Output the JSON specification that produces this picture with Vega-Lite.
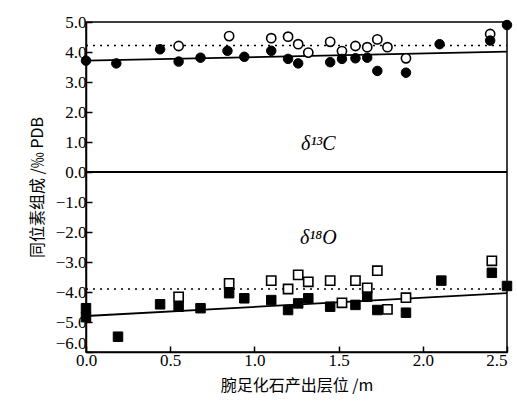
{
  "$schema": "https://vega.github.io/schema/vega-lite/v6.json",
  "width": 421,
  "height": 330,
  "autosize": "none",
  "padding": {"left": 86, "top": 22, "right": 10, "bottom": 51},
  "background": "white",
  "config": {
    "view": {"stroke": "black", "strokeWidth": 1.5}
  },
  "datasets": {
    "pts": [
      {"h": 0.55, "v": 4.2, "iso": "C", "type": "open"},
      {"h": 0.85, "v": 4.53, "iso": "C", "type": "open"},
      {"h": 1.10, "v": 4.46, "iso": "C", "type": "open"},
      {"h": 1.20, "v": 4.51, "iso": "C", "type": "open"},
      {"h": 1.26, "v": 4.26, "iso": "C", "type": "open"},
      {"h": 1.32, "v": 3.98, "iso": "C", "type": "open"},
      {"h": 1.45, "v": 4.34, "iso": "C", "type": "open"},
      {"h": 1.52, "v": 4.03, "iso": "C", "type": "open"},
      {"h": 1.60, "v": 4.20, "iso": "C", "type": "open"},
      {"h": 1.67, "v": 4.16, "iso": "C", "type": "open"},
      {"h": 1.73, "v": 4.42, "iso": "C", "type": "open"},
      {"h": 1.79, "v": 4.16, "iso": "C", "type": "open"},
      {"h": 1.90, "v": 3.79, "iso": "C", "type": "open"},
      {"h": 2.40, "v": 4.6, "iso": "C", "type": "open"},
      {"h": 0.00, "v": 3.71, "iso": "C", "type": "filled"},
      {"h": 0.18, "v": 3.62, "iso": "C", "type": "filled"},
      {"h": 0.44, "v": 4.09, "iso": "C", "type": "filled"},
      {"h": 0.55, "v": 3.68, "iso": "C", "type": "filled"},
      {"h": 0.68, "v": 3.81, "iso": "C", "type": "filled"},
      {"h": 0.84, "v": 4.04, "iso": "C", "type": "filled"},
      {"h": 0.94, "v": 3.84, "iso": "C", "type": "filled"},
      {"h": 1.10, "v": 4.04, "iso": "C", "type": "filled"},
      {"h": 1.20, "v": 3.77, "iso": "C", "type": "filled"},
      {"h": 1.26, "v": 3.62, "iso": "C", "type": "filled"},
      {"h": 1.45, "v": 3.66, "iso": "C", "type": "filled"},
      {"h": 1.52, "v": 3.77, "iso": "C", "type": "filled"},
      {"h": 1.60, "v": 3.79, "iso": "C", "type": "filled"},
      {"h": 1.67, "v": 3.81, "iso": "C", "type": "filled"},
      {"h": 1.73, "v": 3.37, "iso": "C", "type": "filled"},
      {"h": 1.90, "v": 3.31, "iso": "C", "type": "filled"},
      {"h": 2.10, "v": 4.26, "iso": "C", "type": "filled"},
      {"h": 2.40, "v": 4.38, "iso": "C", "type": "filled"},
      {"h": 2.50, "v": 4.90, "iso": "C", "type": "filled"},
      {"h": 0.55, "v": -4.16, "iso": "O", "type": "open"},
      {"h": 0.85, "v": -3.71, "iso": "O", "type": "open"},
      {"h": 1.10, "v": -3.62, "iso": "O", "type": "open"},
      {"h": 1.20, "v": -3.90, "iso": "O", "type": "open"},
      {"h": 1.26, "v": -3.43, "iso": "O", "type": "open"},
      {"h": 1.32, "v": -3.66, "iso": "O", "type": "open"},
      {"h": 1.45, "v": -3.62, "iso": "O", "type": "open"},
      {"h": 1.52, "v": -4.36, "iso": "O", "type": "open"},
      {"h": 1.60, "v": -3.62, "iso": "O", "type": "open"},
      {"h": 1.67, "v": -3.86, "iso": "O", "type": "open"},
      {"h": 1.73, "v": -3.29, "iso": "O", "type": "open"},
      {"h": 1.79, "v": -4.58, "iso": "O", "type": "open"},
      {"h": 1.90, "v": -4.19, "iso": "O", "type": "open"},
      {"h": 2.41, "v": -2.96, "iso": "O", "type": "open"},
      {"h": 0.00, "v": -4.54, "iso": "O", "type": "filled"},
      {"h": 0.00, "v": -4.84, "iso": "O", "type": "filled"},
      {"h": 0.19, "v": -5.49, "iso": "O", "type": "filled"},
      {"h": 0.44, "v": -4.41, "iso": "O", "type": "filled"},
      {"h": 0.55, "v": -4.49, "iso": "O", "type": "filled"},
      {"h": 0.68, "v": -4.54, "iso": "O", "type": "filled"},
      {"h": 0.85, "v": -4.04, "iso": "O", "type": "filled"},
      {"h": 0.94, "v": -4.21, "iso": "O", "type": "filled"},
      {"h": 1.10, "v": -4.27, "iso": "O", "type": "filled"},
      {"h": 1.20, "v": -4.60, "iso": "O", "type": "filled"},
      {"h": 1.26, "v": -4.38, "iso": "O", "type": "filled"},
      {"h": 1.32, "v": -4.21, "iso": "O", "type": "filled"},
      {"h": 1.45, "v": -4.49, "iso": "O", "type": "filled"},
      {"h": 1.60, "v": -4.43, "iso": "O", "type": "filled"},
      {"h": 1.67, "v": -4.16, "iso": "O", "type": "filled"},
      {"h": 1.73, "v": -4.60, "iso": "O", "type": "filled"},
      {"h": 1.90, "v": -4.69, "iso": "O", "type": "filled"},
      {"h": 2.11, "v": -3.62, "iso": "O", "type": "filled"},
      {"h": 2.41, "v": -3.36, "iso": "O", "type": "filled"},
      {"h": 2.50, "v": -3.80, "iso": "O", "type": "filled"}
    ],
    "fits": [
      {"iso": "C", "h": 0.0, "v": 3.71},
      {"iso": "C", "h": 2.5, "v": 4.01},
      {"iso": "O", "h": 0.0, "v": -4.80},
      {"iso": "O", "h": 2.5, "v": -4.04}
    ],
    "means": [
      {"iso": "C", "h0": 0.0, "h1": 2.5, "v": 4.22},
      {"iso": "O", "h0": 0.0, "h1": 2.5, "v": -3.90},
      {"iso": "Z", "h0": 0.0, "h1": 2.5, "v": 0.0}
    ],
    "labels": [
      {"h": 1.38, "v": 0.95, "t": "δ¹³C"},
      {"h": 1.38, "v": -2.2, "t": "δ¹⁸O"}
    ]
  },
  "encoding": {
    "x": {"field": "h", "type": "quantitative", "scale": {"domain": [0, 2.5], "nice": false, "zero": false, "padding": 0},
      "axis": {"values": [0, 0.5, 1, 1.5, 2, 2.5], "format": ".1f", "title": "腕足化石产出层位 /m", "grid": false,
        "domainColor": "black", "domainWidth": 1.5, "tickColor": "black", "tickWidth": 1.5, "tickSize": -6,
        "labelFont": "Liberation Serif", "labelFontSize": 17, "labelColor": "black", "labelPadding": 6, "labelOverlap": false, "labelFlush": false,
        "labelAlign": {"condition": {"test": "datum.value == 2.5", "value": "right"}, "value": "center"},
        "titleFont": "Noto Sans CJK SC", "titleFontSize": 16, "titleFontWeight": "normal", "titleColor": "black", "titlePadding": 9}},
    "y": {"field": "v", "type": "quantitative", "scale": {"domain": [-6, 5], "nice": false, "zero": false, "padding": 0},
      "axis": {"values": [-6, -5, -4, -3, -2, -1, 0, 1, 2, 3, 4, 5], "format": ".1f", "title": "同位素组成 /‰ PDB", "grid": false,
        "domainColor": "black", "domainWidth": 1.5, "tickColor": "black", "tickWidth": 1.5, "tickSize": -6,
        "labelFont": "Liberation Serif", "labelFontSize": 17, "labelColor": "black", "labelPadding": 6, "labelOverlap": false, "labelFlush": false,
        "labelBaseline": {"condition": {"test": "datum.value == -6", "value": "bottom"}, "value": "middle"},
        "titleFont": "Noto Sans CJK SC", "titleFontSize": 16, "titleFontWeight": "normal", "titleColor": "black", "titlePadding": 10}}
  },
  "layer": [
    {
      "data": {"name": "means"},
      "mark": {"type": "rule", "color": "black"},
      "encoding": {
        "x": {"field": "h0", "type": "quantitative"},
        "x2": {"field": "h1"},
        "strokeDash": {"condition": {"test": "datum.iso === 'Z'", "value": [1, 0]}, "value": [2, 5]},
        "strokeWidth": {"condition": {"test": "datum.iso === 'Z'", "value": 1.8}, "value": 1.5}
      }
    },
    {
      "data": {"name": "fits"},
      "mark": {"type": "line", "color": "black", "strokeWidth": 1.8},
      "encoding": {
        "detail": {"field": "iso"}
      }
    },
    {
      "data": {"name": "pts"},
      "transform": [{"filter": "datum.type === 'open'"}],
      "mark": {"type": "point", "filled": false, "fill": "white", "stroke": "black", "strokeWidth": 1.6, "opacity": 1, "size": 85},
      "encoding": {
        "shape": {"field": "iso", "type": "nominal", "scale": {"domain": ["C", "O"], "range": ["circle", "square"]}, "legend": null}
      }
    },
    {
      "data": {"name": "pts"},
      "transform": [{"filter": "datum.type === 'filled'"}],
      "mark": {"type": "point", "filled": true, "fill": "black", "stroke": "black", "strokeWidth": 1, "opacity": 1, "size": 90},
      "encoding": {
        "shape": {"field": "iso", "type": "nominal", "scale": {"domain": ["C", "O"], "range": ["circle", "square"]}, "legend": null}
      }
    },
    {
      "data": {"name": "labels"},
      "mark": {"type": "text", "font": "Liberation Serif", "fontSize": 20, "fontStyle": "italic", "color": "black"},
      "encoding": {
        "text": {"field": "t"}
      }
    }
  ]
}
